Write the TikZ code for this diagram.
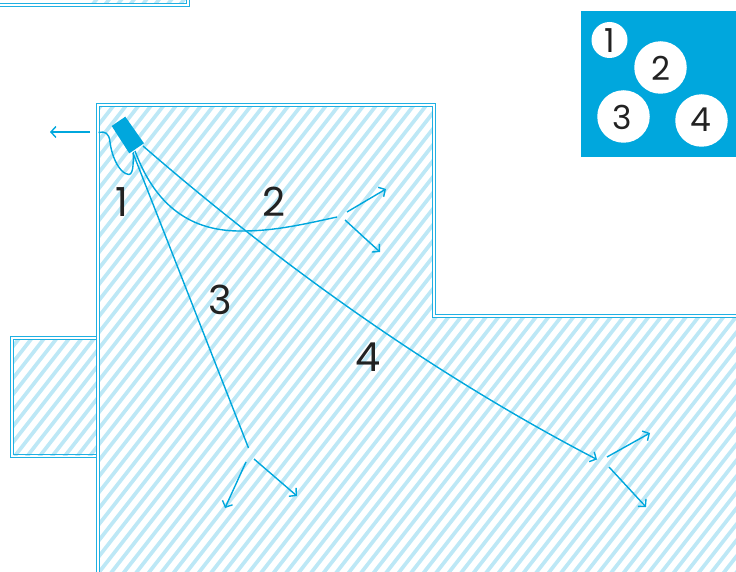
\documentclass[tikz,border=0pt]{standalone}
\usepackage{fontspec}
\setmainfont{Poppins}
\usetikzlibrary{arrows.meta}
\definecolor{cy}{HTML}{00A7DD}
\definecolor{wall}{HTML}{1FB0E2}
\definecolor{hatch}{HTML}{BDE8F6}
\definecolor{ink}{HTML}{222222}
\tikzset{
  wallline/.style={draw=wall,line width=1pt},
  conn/.style={draw=cy,line width=1.4pt},
  ray/.style={conn,-{Straight Barb[length=5pt,width=11pt,line width=1.4pt]}},
  num/.style={text=ink,font=\fontsize{40}{40}\selectfont,inner sep=0pt},
  leg/.style={circle,fill=white,inner sep=0pt},
  legnum/.style={text=ink,font=\fontsize{33}{33}\selectfont,inner sep=0pt}
}
\newcommand{\hatcharea}{
  \foreach \i in {-30,...,90}{
    \fill[hatch] (\i*12.5,600) -- ++(4.7,0) -- ++(500,-640) -- ++(-4.7,0) -- cycle;
  }
}
\begin{document}
\begin{tikzpicture}[x=1pt,y=-1pt]
\useasboundingbox (0,0) rectangle (736,572);
\begin{scope}
  \clip (99,107) -- (432,107) -- (432,317) -- (736,317) -- (736,572) -- (99,572) -- cycle;
  \hatcharea
\end{scope}
\begin{scope}
  \clip (13.5,339) -- (96,339) -- (96,455) -- (13.5,455) -- cycle;
  \hatcharea
\end{scope}
\begin{scope}
  \clip (0,0) -- (186.5,0) -- (186.5,3.5) -- (0,3.5) -- cycle;
  \hatcharea
\end{scope}
% walls
\draw[wallline] (96,572) -- (96,104) -- (435,104) -- (435,314) -- (736,314);
\draw[wallline] (99,572) -- (99,107) -- (432,107) -- (432,317) -- (736,317);
\draw[wallline] (96,336.5) -- (10.5,336.5) -- (10.5,457.5) -- (96,457.5);
\draw[wallline] (96,339.5) -- (13.5,339.5) -- (13.5,454.5) -- (96,454.5);
\draw[wallline] (0,6.5) -- (189.5,6.5) -- (189.5,0);
\draw[wallline] (0,3.5) -- (186.5,3.5) -- (186.5,0);
% sensor
\fill[cy] (111.7,126) -- (125.3,116.7) -- (144,143.3) -- (129.3,153.3) -- cycle;
\coordinate (s1) at (133.5,152);
\coordinate (s2) at (135,151);
\coordinate (s3) at (133,153);
\coordinate (s4) at (143,146);
\coordinate (wireend) at (98.5,132.5);
\coordinate (arrowstart) at (90,132);
\coordinate (arrowend) at (50,132);
\coordinate (e2) at (337,217);
\coordinate (e3) at (248.5,448);
\coordinate (e4) at (597,459.5);
% rays
\draw[conn] (wireend) .. controls (105,131) and (109,133) .. (110,142) .. controls (112,158) and (120,174) .. (129,174.5) .. controls (134,174) and (133,160) .. (s1);
\draw[conn] (s2) .. controls (155,205) and (190,232) .. (243,231) .. controls (275,231) and (305,224) .. (e2);
\draw[conn] (s3) -- (e3);
\draw[ray] (s4) .. controls (293,276) and (446,381) .. (e4);
\draw[ray] (arrowstart) -- (arrowend);
\coordinate (a21) at (347,212); \coordinate (a22) at (386,189);
\coordinate (a23) at (345,220); \coordinate (a24) at (380,252);
\coordinate (a31) at (246,462); \coordinate (a32) at (225,508);
\coordinate (a33) at (254,459); \coordinate (a34) at (297,496);
\coordinate (a41) at (607,457); \coordinate (a42) at (650,433);
\coordinate (a43) at (609,467); \coordinate (a44) at (646,507);
\draw[ray] (a21) -- (a22);
\draw[ray] (a23) -- (a24);
\draw[ray] (a31) -- (a32);
\draw[ray] (a33) -- (a34);
\draw[ray] (a41) -- (a42);
\draw[ray] (a43) -- (a44);
% labels
\node[num] (n1) at (122,202) {1};
\node[num] (n2) at (274,202) {2};
\node[num] (n3) at (220,300) {3};
\node[num] (n4) at (368,357) {4};
% legend
\fill[cy] (581,11) rectangle (736,157);
\node[leg,minimum size=36pt] (c1) at (609.5,40) {};
\node[leg,minimum size=52.5pt] (c2) at (660.5,67.5) {};
\node[leg,minimum size=52.5pt] (c3) at (623.5,116.5) {};
\node[leg,minimum size=52.5pt] (c4) at (701.5,120.5) {};
\node[legnum] (l1) at (609.5,41) {1};
\node[legnum] (l2) at (660.5,68) {2};
\node[legnum] (l3) at (622,117) {3};
\node[legnum] (l4) at (701,120) {4};
\end{tikzpicture}
\end{document}
